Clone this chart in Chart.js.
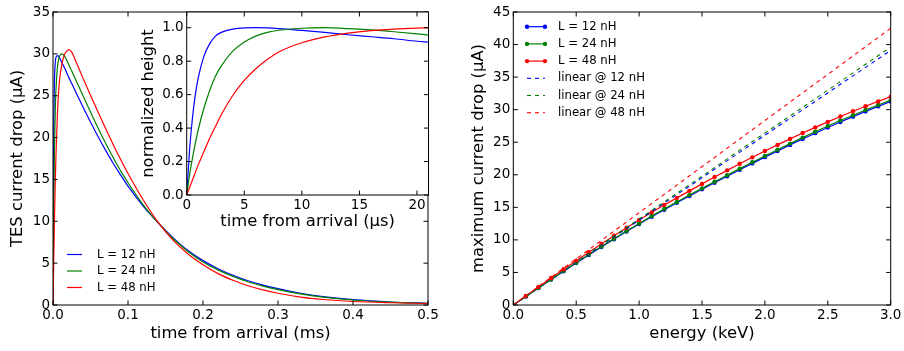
<!DOCTYPE html>
<html><head><meta charset="utf-8">
<script src="https://cdn.jsdelivr.net/npm/chart.js@4.4.1/dist/chart.umd.min.js"></script>
<style>
html,body{margin:0;padding:0;background:#fff;}
#wrap{position:relative;width:904px;height:351px;overflow:hidden;background:#fff;}
canvas{position:absolute;left:0;top:0;}
</style></head><body>
<div id="wrap">
<canvas id="cMain" width="904" height="351"></canvas>
<canvas id="cInset" width="904" height="351"></canvas>
<canvas id="cRight" width="904" height="351"></canvas>
</div>
<script>
// ---------- data: left main panel (time in ms, current drop in µA) ----------
const timeMs = [0, 0.0005, 0.001, 0.0015, 0.002, 0.003, 0.004, 0.006, 0.008, 0.010, 0.012, 0.015, 0.018, 0.021, 0.025, 0.03, 0.04, 0.05, 0.06, 0.07, 0.08, 0.09, 0.10, 0.12, 0.14, 0.16, 0.18, 0.20, 0.22, 0.24, 0.26, 0.28, 0.30, 0.33, 0.36, 0.40, 0.45, 0.50];
const pulse12 = [0, 13.7, 20.9, 24.7, 27.0, 29.0, 29.6, 29.8, 29.65, 29.3, 28.95, 28.4, 27.8, 27.2, 26.45, 25.5, 23.65, 21.85, 20.13, 18.5, 16.97, 15.55, 14.2, 11.85, 9.85, 8.05, 6.5, 5.3, 4.34, 3.55, 2.9, 2.38, 1.95, 1.4, 1.0, 0.64, 0.36, 0.2];
const pulse24 = [0, 6.6, 11.7, 15.6, 18.75, 23.1, 25.8, 28.5, 29.55, 29.9, 30.0, 29.8, 29.3, 28.7, 27.95, 26.98, 25.0, 23.05, 21.15, 19.35, 17.65, 16.05, 14.6, 12.0, 9.85, 7.95, 6.4, 5.15, 4.2, 3.42, 2.78, 2.26, 1.84, 1.32, 0.94, 0.6, 0.34, 0.19];
const pulse48 = [0, 2.75, 5.5, 7.9, 10.4, 14.6, 18.1, 23.0, 26.1, 27.75, 28.8, 29.85, 30.3, 30.5, 30.2, 29.2, 27.1, 25.05, 23.05, 21.1, 19.2, 17.4, 15.7, 12.6, 9.9, 7.75, 6.1, 4.8, 3.75, 2.95, 2.3, 1.8, 1.4, 0.95, 0.66, 0.42, 0.27, 0.18];
const mainXTicks = [0, 0.1, 0.2, 0.3, 0.4, 0.5];
const mainXLabels = ['0.0', '0.1', '0.2', '0.3', '0.4', '0.5'];
const mainYTicks = [0, 5, 10, 15, 20, 25, 30, 35];
const mainYLabels = ['0', '5', '10', '15', '20', '25', '30', '35'];

// ---------- data: inset (time in µs, normalized height) ----------
const timeUs = [0, 0.25, 0.5, 0.75, 1, 1.5, 2, 2.5, 3, 4, 5, 6, 7, 8, 10, 12, 14, 16, 18, 20, 21];
const norm12 = [0, 0.27, 0.46, 0.60, 0.70, 0.83, 0.905, 0.95, 0.972, 0.992, 0.999, 1.0, 0.999, 0.995, 0.984, 0.972, 0.958, 0.946, 0.934, 0.919, 0.913];
const norm24 = [0, 0.12, 0.22, 0.31, 0.39, 0.52, 0.625, 0.71, 0.77, 0.86, 0.915, 0.95, 0.972, 0.985, 0.997, 1.0, 0.995, 0.987, 0.976, 0.963, 0.956];
const norm48 = [0, 0.045, 0.09, 0.135, 0.18, 0.26, 0.34, 0.41, 0.48, 0.595, 0.685, 0.755, 0.81, 0.855, 0.91, 0.945, 0.968, 0.983, 0.992, 0.998, 1.0];
const insetXTicks = [0, 5, 10, 15, 20];
const insetXLabels = ['0', '5', '10', '15', '20'];
const insetYTicks = [0, 0.2, 0.4, 0.6, 0.8, 1.0];
const insetYLabels = ['0.0', '0.2', '0.4', '0.6', '0.8', '1.0'];

// ---------- data: right panel (energy keV, max current drop µA) ----------
const energyKeV = [0, 0.1, 0.2, 0.3, 0.4, 0.5, 0.6, 0.7, 0.8, 0.9, 1.0, 1.1, 1.2, 1.3, 1.4, 1.5, 1.6, 1.7, 1.8, 1.9, 2.0, 2.1, 2.2, 2.3, 2.4, 2.5, 2.6, 2.7, 2.8, 2.9, 3.0];
const maxDrop12 = [0, 1.31, 2.61, 3.90, 5.18, 6.44, 7.68, 8.90, 10.10, 11.28, 12.43, 13.55, 14.64, 15.70, 16.74, 17.77, 18.78, 19.78, 20.77, 21.75, 22.71, 23.66, 24.59, 25.50, 26.39, 27.26, 28.11, 28.93, 29.73, 30.50, 31.25];
const maxDrop24 = [0, 1.32, 2.63, 3.93, 5.22, 6.49, 7.74, 8.97, 10.18, 11.37, 12.53, 13.66, 14.76, 15.83, 16.88, 17.91, 18.93, 19.94, 20.94, 21.92, 22.89, 23.85, 24.79, 25.71, 26.61, 27.48, 28.33, 29.15, 29.95, 30.72, 31.47];
const maxDrop48 = [0, 1.40, 2.78, 4.14, 5.48, 6.80, 8.10, 9.38, 10.64, 11.87, 13.07, 14.23, 15.35, 16.45, 17.53, 18.60, 19.65, 20.68, 21.69, 22.68, 23.65, 24.59, 25.51, 26.41, 27.28, 28.13, 28.95, 29.75, 30.52, 31.27, 31.99];
const linearE = [0, 3.0];
const linear12 = [0, 39.1];
const linear24 = [0, 39.6];
const linear48 = [0, 42.5];
const rightXTicks = [0, 0.5, 1.0, 1.5, 2.0, 2.5, 3.0];
const rightXLabels = ['0.0', '0.5', '1.0', '1.5', '2.0', '2.5', '3.0'];
const rightYTicks = [0, 5, 10, 15, 20, 25, 30, 35, 40, 45];
const rightYLabels = ['0', '5', '10', '15', '20', '25', '30', '35', '40', '45'];

const seriesLabels = ['L = 12 nH', 'L = 24 nH', 'L = 48 nH'];
const linearLabels = ['linear @ 12 nH', 'linear @ 24 nH', 'linear @ 48 nH'];

// ---------- styling ----------
const BLUE = '#0000ff', GREEN = '#008000', RED = '#ff0000';
const FONT = "'DejaVu Sans', 'Liberation Sans', sans-serif";
Chart.defaults.font.family = FONT;
Chart.defaults.color = '#000';

const pts = (xs, ys) => xs.map((x, i) => ({x: x, y: ys[i]}));

function axis(o) {
  return {
    type: 'linear', min: o.min, max: o.max, position: o.pos,
    grid: {display: false, drawTicks: false},
    border: {display: false},
    afterFit: s => { if (o.pos === 'left') s.width = o.size; else s.height = o.size; },
    afterBuildTicks: s => { s.ticks = o.vals.map(v => ({value: v})); },
    ticks: {autoSkip: false, maxRotation: 0, minRotation: 0, padding: o.tpad, color: '#000',
            font: {size: 13.5, family: FONT}, callback: (v, i) => o.labels[i]},
    title: {display: true, text: o.title, color: '#000', font: {size: 16.4, family: FONT}, padding: o.titlePad}
  };
}

// inward ticks on all four sides + frame + optional white background
const frameTicks = {
  id: 'frameTicks',
  beforeDraw(chart, args, opts) {
    if (opts && opts.fill) {
      const a = chart.chartArea, ctx = chart.ctx;
      ctx.save(); ctx.fillStyle = opts.fill;
      ctx.fillRect(a.left, a.top, a.right - a.left, a.bottom - a.top);
      ctx.restore();
    }
  },
  afterDraw(chart) {
    const {ctx, chartArea: a, scales} = chart;
    const L = 4.5;
    ctx.save();
    ctx.strokeStyle = '#000'; ctx.lineWidth = 1;
    ctx.beginPath();
    scales.x.ticks.forEach(t => {
      const px = scales.x.getPixelForValue(t.value);
      ctx.moveTo(px, a.bottom); ctx.lineTo(px, a.bottom - L);
      ctx.moveTo(px, a.top); ctx.lineTo(px, a.top + L);
    });
    scales.y.ticks.forEach(t => {
      const py = scales.y.getPixelForValue(t.value);
      ctx.moveTo(a.left, py); ctx.lineTo(a.left + L, py);
      ctx.moveTo(a.right, py); ctx.lineTo(a.right - L, py);
    });
    ctx.stroke();
    ctx.strokeRect(a.left, a.top, a.right - a.left, a.bottom - a.top);
    ctx.restore();
  }
};

// legend drawn inside the axes
const boxLegend = {
  id: 'boxLegend',
  afterDraw(chart, args, o) {
    if (!o || !o.show) return;
    const ctx = chart.ctx;
    ctx.save();
    ctx.font = o.size + 'px ' + FONT;
    ctx.textBaseline = 'middle';
    chart.data.datasets.forEach((ds, i) => {
      const y = o.y + i * o.dy;
      ctx.strokeStyle = ds.borderColor; ctx.lineWidth = ds.borderWidth;
      ctx.setLineDash(ds.borderDash || []);
      ctx.beginPath(); ctx.moveTo(o.x0, y); ctx.lineTo(o.x1, y); ctx.stroke();
      ctx.setLineDash([]);
      if (ds.pointRadius > 0) {
        ctx.fillStyle = ds.borderColor;
        [o.x0, o.x1].forEach(px => { ctx.beginPath(); ctx.arc(px, y, ds.pointRadius, 0, 2 * Math.PI); ctx.fill(); });
      }
      ctx.fillStyle = '#000';
      ctx.fillText(ds.label, o.tx, y);
    });
    ctx.restore();
  }
};

function curve(label, xs, ys, color, order) {
  return {label: label, data: pts(xs, ys), borderColor: color, backgroundColor: color,
          borderWidth: 1.2, pointRadius: 0, cubicInterpolationMode: 'monotone', fill: false, order: order};
}

const common = {
  responsive: false, animation: false, devicePixelRatio: 1,
  events: [],
};

// ---------- left main chart ----------
new Chart(document.getElementById('cMain'), {
  type: 'line',
  data: {datasets: [
    curve(seriesLabels[0], timeMs, pulse12, BLUE, 3),
    curve(seriesLabels[1], timeMs, pulse24, GREEN, 2),
    curve(seriesLabels[2], timeMs, pulse48, RED, 1)
  ]},
  options: Object.assign({}, common, {
    layout: {padding: {left: 0, top: 12, right: 476, bottom: 0}},
    scales: {
      x: axis({min: 0, max: 0.5, pos: 'bottom', size: 46, vals: mainXTicks, labels: mainXLabels, tpad: 2,
               title: 'time from arrival (ms)', titlePad: {top: 0, bottom: 7}}),
      y: axis({min: 0, max: 35, pos: 'left', size: 53, vals: mainYTicks, labels: mainYLabels, tpad: 3,
               title: 'TES current drop (μA)', titlePad: {top: 7.7, bottom: 0}})
    },
    plugins: {legend: {display: false}, tooltip: {enabled: false},
      boxLegend: {show: true, x0: 67, x1: 82, tx: 97, y: 254.5, dy: 16.5, size: 11.7}}
  }),
  plugins: [frameTicks, boxLegend]
});

// ---------- inset chart ----------
new Chart(document.getElementById('cInset'), {
  type: 'line',
  data: {datasets: [
    curve(seriesLabels[0], timeUs, norm12, BLUE, 3),
    curve(seriesLabels[1], timeUs, norm24, GREEN, 2),
    curve(seriesLabels[2], timeUs, norm48, RED, 1)
  ]},
  options: Object.assign({}, common, {
    layout: {padding: {left: 136.7, top: 12, right: 475.5, bottom: 116}},
    scales: {
      x: axis({min: 0, max: 21, pos: 'bottom', size: 40, vals: insetXTicks, labels: insetXLabels, tpad: 2,
               title: 'time from arrival (μs)', titlePad: {top: 0, bottom: 3.2}}),
      y: axis({min: 0, max: 1.094, pos: 'left', size: 50, vals: insetYTicks, labels: insetYLabels, tpad: 3,
               title: 'normalized height', titlePad: {top: 2.5, bottom: 0}})
    },
    plugins: {legend: {display: false}, tooltip: {enabled: false}, frameTicks: {fill: '#fff'}}
  }),
  plugins: [frameTicks]
});

// ---------- right chart ----------
function marked(label, ys, color, order) {
  return {label: label, data: pts(energyKeV, ys), borderColor: color, backgroundColor: color,
          pointBackgroundColor: color, pointBorderColor: color, pointBorderWidth: 0,
          borderWidth: 1.2, pointRadius: 2.2, tension: 0, fill: false, order: order};
}
function dashed(label, ys, color, order) {
  return {label: label, data: pts(linearE, ys), borderColor: color, backgroundColor: color,
          borderWidth: 1.1, borderDash: [4, 4], pointRadius: 0, tension: 0, fill: false, order: order};
}
new Chart(document.getElementById('cRight'), {
  type: 'line',
  data: {datasets: [
    marked(seriesLabels[0], maxDrop12, BLUE, 6),
    marked(seriesLabels[1], maxDrop24, GREEN, 5),
    marked(seriesLabels[2], maxDrop48, RED, 4),
    dashed(linearLabels[0], linear12, BLUE, 3),
    dashed(linearLabels[1], linear24, GREEN, 2),
    dashed(linearLabels[2], linear48, RED, 1)
  ]},
  options: Object.assign({}, common, {
    layout: {padding: {left: 463.3, top: 12, right: 13.3, bottom: 0}},
    scales: {
      x: axis({min: 0, max: 3, pos: 'bottom', size: 46, vals: rightXTicks, labels: rightXLabels, tpad: 2,
               title: 'energy (keV)', titlePad: {top: 0, bottom: 7}}),
      y: axis({min: 0, max: 45, pos: 'left', size: 50, vals: rightYTicks, labels: rightYLabels, tpad: 3,
               title: 'maximum current drop (μA)', titlePad: {top: 5.9, bottom: 0}})
    },
    plugins: {legend: {display: false}, tooltip: {enabled: false},
      boxLegend: {show: true, x0: 527, x1: 545, tx: 558, y: 26.7, dy: 17.2, size: 11.7}}
  }),
  plugins: [frameTicks, boxLegend]
});
</script>
</body></html>
